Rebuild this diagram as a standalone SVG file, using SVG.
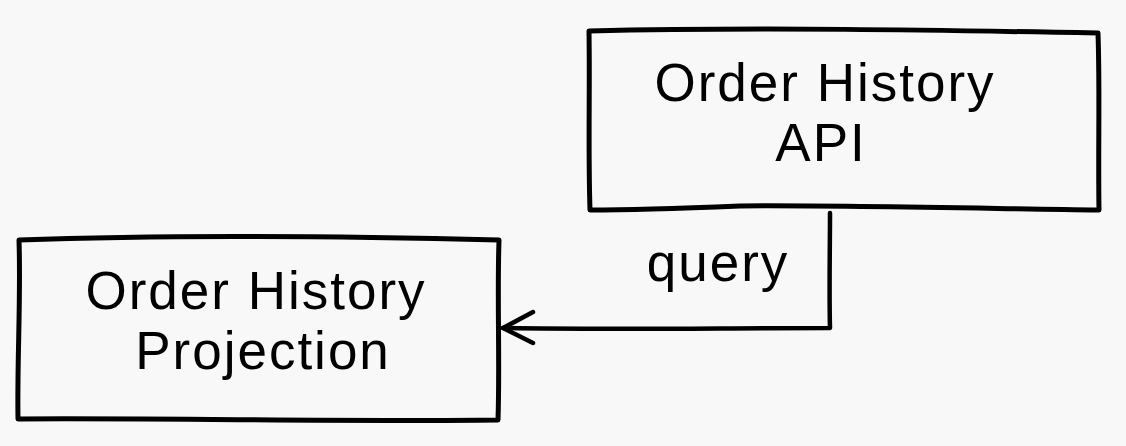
<svg xmlns="http://www.w3.org/2000/svg" width="1126" height="446" viewBox="0 0 1126 446">
  <style>
    .box { fill: none; stroke: #000; stroke-width: 5; stroke-linejoin: round; stroke-linecap: round; }
    .edge { fill: none; stroke: #000; stroke-width: 4.5; stroke-linejoin: round; stroke-linecap: round; }
    .label { font-family: "Liberation Sans", "DejaVu Sans", sans-serif; font-size: 53px; letter-spacing: 2px; fill: #000; text-anchor: middle; }
  </style>
  <rect width="1126" height="446" fill="#f8f8f8"/>
  <g id="node-api">
    <path class="box" d="M589,31 C760,27 930,30 1098,33 C1100,90 1098,150 1099,210 C960,208 820,205 740,206 C690,208 640,210 590,210 C588,150 590,90 589,31 Z"/>
    <text class="label" x="825" y="101">Order History</text>
    <text class="label" x="821" y="161">API</text>
  </g>
  <g id="node-projection">
    <path class="box" d="M19,240 C180,234 340,236 499,240 C497,300 500,360 498,420 C340,422 180,418 18,419 C17,360 21,300 19,240 Z"/>
    <text class="label" x="256" y="309">Order History</text>
    <text class="label" x="263" y="369">Projection</text>
  </g>
  <g id="connectors">
    <path class="edge" d="M830,213 C830,250 829,290 830,328 C720,328 610,330 503,328"/>
    <path class="edge" d="M533,312 L503,328 L533,343"/>
    <text class="label" x="718" y="281">query</text>
  </g>
</svg>
